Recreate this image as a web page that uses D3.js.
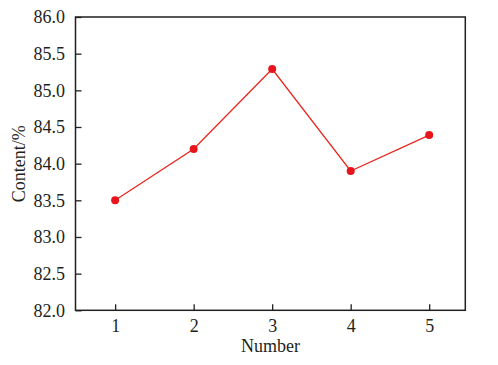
<!DOCTYPE html>
<html>
<head>
<meta charset="utf-8">
<script src="https://cdn.jsdelivr.net/npm/d3@7"></script>
<style>
  body { margin: 0; background: #fff; }
  text { font-family: "Liberation Serif", "Times New Roman", serif; fill: #231f20; }
</style>
</head>
<body>
<div id="chart"></div>
<script>
(function() {
  // chart values
  var numbers = [1, 2, 3, 4, 5];
  var content = [83.5, 84.2, 85.29, 83.9, 84.39];
  var yTicks = [82.0, 82.5, 83.0, 83.5, 84.0, 84.5, 85.0, 85.5, 86.0];

  var width = 498,
      height = 365,
      // plot box in pixels
      left = 75.5, right = 465.3, top = 17, bottom = 310.3;

  var svg = d3.select("#chart")
      .append("svg")
      .attr("width", width)
      .attr("height", height);

  var x = d3.scaleLinear().domain([0.495, 5.46]).range([left, right]);
  var y = d3.scaleLinear().domain([82, 86]).range([bottom, top]);

  // y axis, ticks pointing inward
  var yAxis = d3.axisLeft(y)
      .tickValues(yTicks)
      .tickFormat(d3.format(".1f"))
      .tickSizeInner(-6)
      .tickSizeOuter(0)
      .tickPadding(10.5);

  var gy = svg.append("g")
      .attr("transform", "translate(" + left + ",0)")
      .call(yAxis);

  var xAxis = d3.axisBottom(x)
      .tickValues(numbers)
      .tickFormat(d3.format("d"))
      .tickSizeInner(-6)
      .tickSizeOuter(0)
      .tickPadding(9);

  var gx = svg.append("g")
      .attr("transform", "translate(0," + bottom + ")")
      .call(xAxis);

  [gx, gy].forEach(function(g) {
    g.select(".domain").remove();
    g.selectAll("line").attr("stroke", "#231f20").attr("stroke-width", 1.3);
    g.selectAll("text")
      .attr("font-family", "'Liberation Serif', 'Times New Roman', serif")
      .attr("font-size", 18)
      .attr("fill", "#231f20");
  });

  // frame around the plot
  svg.append("rect")
      .attr("x", left)
      .attr("y", top)
      .attr("width", right - left)
      .attr("height", bottom - top)
      .attr("fill", "none")
      .attr("stroke", "#231f20")
      .attr("stroke-width", 1.5);

  var pts = numbers.map(function(n, i) { return [n, content[i]]; });

  var line = d3.line()
      .x(function(d) { return x(d[0]); })
      .y(function(d) { return y(d[1]); });

  svg.append("path")
      .datum(pts)
      .attr("d", line)
      .attr("fill", "none")
      .attr("stroke", "#e8261c")
      .attr("stroke-width", 1.3);

  svg.selectAll("circle.pt")
      .data(pts)
      .enter()
      .append("circle")
      .attr("class", "pt")
      .attr("cx", function(d) { return x(d[0]); })
      .attr("cy", function(d) { return y(d[1]); })
      .attr("r", 4)
      .attr("fill", "#e8141c");

  // axis titles
  svg.append("text")
      .attr("x", (left + right) / 2)
      .attr("y", 352)
      .attr("text-anchor", "middle")
      .attr("font-size", 18)
      .text("Number");

  svg.append("text")
      .attr("transform", "translate(25," + ((top + bottom) / 2) + ") rotate(-90)")
      .attr("text-anchor", "middle")
      .attr("font-size", 18)
      .text("Content/%");
})();
</script>
</body>
</html>
